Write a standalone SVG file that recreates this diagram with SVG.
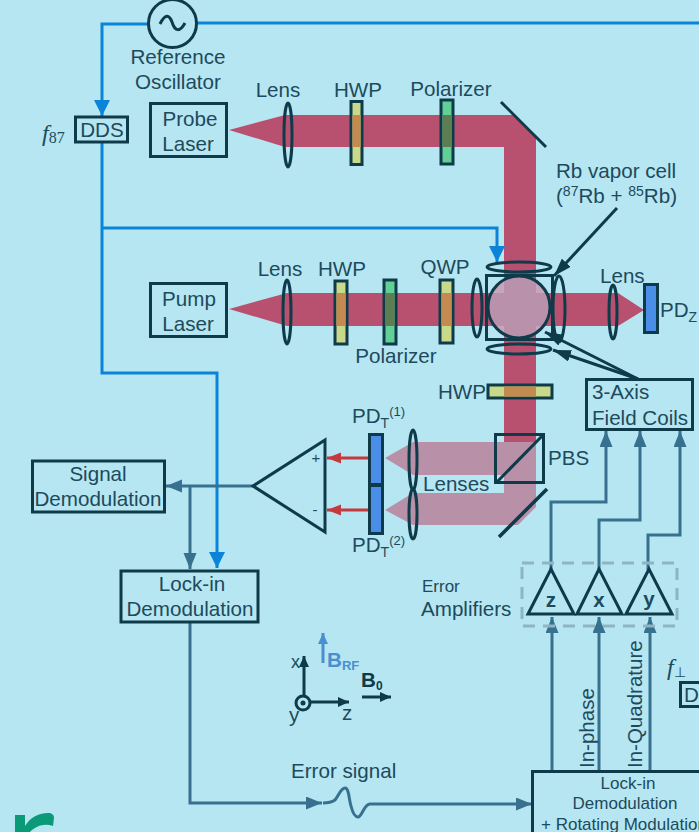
<svg xmlns="http://www.w3.org/2000/svg" width="699" height="832" viewBox="0 0 699 832">
<style>
svg{font-family:"Liberation Sans",Arial,sans-serif;font-size:20.6px}
text{fill:#1d4a5c}
.m{text-anchor:middle}
.box{fill:none;stroke:#0e3a4a;stroke-width:3}
.opt{fill:none;stroke:#0e3a4a;stroke-width:3}
.blue{fill:none;stroke:#0b84d8;stroke-width:3}
.steel{fill:none;stroke:#38708f;stroke-width:3}
.dark{fill:none;stroke:#0e3a4a;stroke-width:3}
.hw{fill:#c9d98a;stroke:#0e3a4a;stroke-width:3}
.po{fill:#62cf96;stroke:#0e3a4a;stroke-width:3}
.hb{fill:#c58a50}
.pb{fill:#5e7d52}
.pd{fill:#4a8ee8;stroke:#0e3a4a;stroke-width:3}
.ser{font-family:"Liberation Serif",serif;font-style:italic}
</style>
<defs>
<marker id="ab" markerWidth="18" markerHeight="18" refX="16" refY="8" orient="auto" markerUnits="userSpaceOnUse"><path d="M0 0L16 8L0 16Z" fill="#0b84d8"/></marker>
<marker id="as" markerWidth="18" markerHeight="14" refX="16" refY="6.500" orient="auto" markerUnits="userSpaceOnUse"><path d="M0 0L16 6.500L0 13Z" fill="#38708f"/></marker>
<marker id="ad" markerWidth="20" markerHeight="14" refX="18" refY="6" orient="auto" markerUnits="userSpaceOnUse"><path d="M0 0L18 6L0 12Z" fill="#0e3a4a"/></marker>
<marker id="ar" markerWidth="16" markerHeight="12" refX="14" refY="5.500" orient="auto" markerUnits="userSpaceOnUse"><path d="M0 0L14 5.500L0 11Z" fill="#c43a3f"/></marker>
<marker id="ak" markerWidth="12" markerHeight="10" refX="11" refY="5" orient="auto" markerUnits="userSpaceOnUse"><path d="M0 0L11 5L0 10Z" fill="#0e3a4a"/></marker>
<marker id="al" markerWidth="12" markerHeight="10" refX="11" refY="5" orient="auto" markerUnits="userSpaceOnUse"><path d="M0 0L11 5L0 10Z" fill="#4a8fd0"/></marker>
<clipPath id="cell"><circle cx="519" cy="307" r="31"/></clipPath>
</defs>
<rect width="699" height="832" fill="#b6e6f1"/>

<g id="beams">
<path d="M229 130L285 115H513L536 137V442L504 474V147H285Z" fill="#b8506f"/>
<path d="M229 309L287 293H618L644 310L618 326H287Z" fill="#b8506f"/>
<path d="M385 458L413 442H536L504 474V475H413Z" fill="#b891a8"/>
<path d="M504 474L536 442V507L518 525H413L385 510L413 493H504Z" fill="#b891a8"/>
</g>

<g id="connectors">
<path class="blue" d="M148 24H102V116" marker-end="url(#ab)"/>
<path class="blue" d="M197 23H699"/>
<path class="blue" d="M102 142V373H217V568" marker-end="url(#ab)"/>
<path class="blue" stroke-width="2" d="M102 228H497V262" marker-end="url(#ab)"/>
<path class="steel" d="M253 486H166" marker-end="url(#as)"/>
<path class="steel" d="M190 486V569" marker-end="url(#as)"/>
<path class="steel" d="M190 622V803H322" marker-end="url(#as)"/>
<path class="steel" d="M323 803C330 803 332 802 335 800C339 795 341 788 345 788C349 788 349 800 351 806C353 814 355 817 358 817C362 817 364 804 370 804H532" marker-end="url(#as)"/>
<path class="steel" d="M552 771V617" marker-end="url(#as)"/>
<path class="steel" d="M599 771V617" marker-end="url(#as)"/>
<path class="steel" d="M650 771V617" marker-end="url(#as)"/>
<path class="steel" d="M551 570V502H606V431" marker-end="url(#as)"/>
<path class="steel" d="M599 570V520H640V431" marker-end="url(#as)"/>
<path class="steel" d="M648 570V535H680V431" marker-end="url(#as)"/>
<path d="M369 458H327" stroke="#c43a3f" stroke-width="3" marker-end="url(#ar)"/>
<path d="M369 510H327" stroke="#c43a3f" stroke-width="3" marker-end="url(#ar)"/>
</g>

<g id="oscillator"><circle cx="172.500" cy="23.500" r="24" fill="none" stroke="#0e3a4a" stroke-width="3"/><path d="M160 24C165 14 169 14 172 22C175 32 180 32 185 23" fill="none" stroke="#0e3a4a" stroke-width="3"/>
<text class="m" x="178" y="64">Reference</text><text class="m" x="178" y="89">Oscillator</text></g>
<g id="dds"><rect class="box" x="75.500" y="117" width="52" height="25"/><text class="m" x="102" y="137">DDS</text><text class="ser" x="42" y="141" font-size="24">f<tspan font-size="16" font-style="normal" dy="2">87</tspan></text></g>
<g id="probe-laser"><rect class="box" x="150.500" y="103.500" width="76" height="53"/><text class="m" x="190" y="126">Probe</text><text class="m" x="188" y="151">Laser</text></g>
<g id="pump-laser"><rect class="box" x="150.500" y="283.500" width="76" height="53"/><text class="m" x="189" y="306">Pump</text><text class="m" x="188" y="331">Laser</text></g>

<g id="probe-optics">
<ellipse class="opt" cx="288" cy="135" rx="4" ry="32"/>
<rect class="hw" x="351" y="101.500" width="11" height="63"/><rect class="hb" x="352.500" y="115" width="8" height="32"/>
<rect class="po" x="441" y="100" width="12" height="64"/><rect class="pb" x="442.500" y="115" width="9" height="32"/>
<path d="M501 102L546 147" stroke="#0e3a4a" stroke-width="3"/>
<text class="m" x="278" y="97">Lens</text><text class="m" x="358" y="97">HWP</text><text class="m" x="451" y="96">Polarizer</text>
</g>
<g id="pump-optics">
<ellipse class="opt" cx="287" cy="312" rx="4" ry="32"/>
<rect class="hw" x="335" y="281" width="12" height="63"/><rect class="hb" x="336.500" y="293" width="9" height="33"/>
<rect class="po" x="384" y="280" width="12" height="64"/><rect class="pb" x="385.500" y="293" width="9" height="33"/>
<rect class="hw" x="440" y="280" width="13" height="63"/><rect class="hb" x="441.500" y="293" width="10" height="33"/>
<text class="m" x="280" y="276">Lens</text><text class="m" x="342" y="276">HWP</text><text class="m" x="445" y="274">QWP</text><text class="m" x="396" y="363">Polarizer</text>
</g>
<g id="vapor-cell">
<circle cx="519" cy="307" r="31" fill="#c8a5bc"/>
<g clip-path="url(#cell)" fill="#b991aa"><rect x="504" y="270" width="32" height="74"/><rect x="480" y="293" width="78" height="33"/></g>
<circle cx="519" cy="307" r="31" fill="none" stroke="#0e3a4a" stroke-width="3"/>
<rect class="box" x="486.500" y="275.500" width="66" height="64"/>
<ellipse class="opt" cx="519" cy="267" rx="32" ry="5"/>
<ellipse class="opt" cx="519" cy="349" rx="32" ry="5"/>
<ellipse class="opt" cx="477" cy="308" rx="5" ry="29"/>
<ellipse class="opt" cx="559" cy="309" rx="6" ry="33"/>
<path class="dark" d="M617 208L554 276" marker-end="url(#ad)"/>
<path class="dark" d="M638 379L545 332" marker-end="url(#ad)"/>
<path class="dark" d="M638 379L553 350" marker-end="url(#ad)"/>
<text x="556" y="178">Rb vapor cell</text>
<text x="556" y="203">(<tspan font-size="14" dy="-7">87</tspan><tspan dy="7">Rb + </tspan><tspan font-size="14" dy="-7">85</tspan><tspan dy="7">Rb)</tspan></text>
</g>
<g id="pd-z"><ellipse class="opt" cx="613" cy="312" rx="4" ry="27"/><rect class="pd" x="644.500" y="284.500" width="13" height="48"/><text x="600" y="283">Lens</text><text x="660" y="317">PD<tspan font-size="14" dy="5">Z</tspan></text></g>
<g id="pbs-optics">
<rect class="hw" x="488" y="385" width="64" height="13"/><rect class="hb" x="504" y="386.500" width="32" height="10"/>
<text x="438" y="399">HWP</text>
<rect class="box" x="495.500" y="434.500" width="48" height="48"/><path d="M496 483L544 434" stroke="#0e3a4a" stroke-width="3"/>
<text x="548" y="465">PBS</text>
<path d="M499 537L547 489" stroke="#0e3a4a" stroke-width="3.500"/>
<ellipse class="opt" cx="413" cy="460" rx="4" ry="30"/><ellipse class="opt" cx="413" cy="514" rx="4" ry="25"/>
<text x="423" y="491">Lenses</text>
</g>
<g id="pd-t"><rect class="pd" x="369.500" y="434.500" width="13" height="50"/><rect class="pd" x="369.500" y="485.500" width="13" height="48"/>
<text x="352" y="423">PD<tspan font-size="14" dy="5">T</tspan><tspan font-size="13" dy="-12">(1)</tspan></text>
<text x="352" y="552">PD<tspan font-size="14" dy="5">T</tspan><tspan font-size="13" dy="-12">(2)</tspan></text></g>
<g id="amplifier"><path class="dark" d="M253 486L325 440V532Z"/><text class="m" x="316" y="463" font-size="15">+</text><text class="m" x="315" y="515" font-size="15">-</text></g>
<g id="field-coils"><rect class="box" x="586.500" y="379.500" width="106" height="50"/><text x="592" y="399">3-Axis</text><text x="592" y="425">Field Coils</text></g>
<g id="signal-demod"><rect class="box" x="32.500" y="461" width="132" height="51"/><text class="m" x="98" y="481">Signal</text><text class="m" x="98" y="506">Demodulation</text></g>
<g id="lockin-demod"><rect class="box" x="121" y="571" width="137" height="51"/><text class="m" x="192" y="591">Lock-in</text><text class="m" x="190" y="616">Demodulation</text></g>
<g id="error-amps">
<rect x="522" y="563" width="155" height="63" fill="none" stroke="#8fb5c0" stroke-width="3" stroke-dasharray="12 8"/>
<path class="dark" stroke-width="3.500" d="M528 614L551 569L574 614Z"/><path class="dark" d="M577 614L599 569L622 614Z"/><path class="dark" d="M626 614L649 569L672 614Z"/>
<text class="m" x="551" y="607" font-weight="bold">z</text><text class="m" x="599" y="607" font-weight="bold">x</text><text class="m" x="649" y="606" font-weight="bold">y</text>
<text x="422" y="592" font-size="17">Error</text><text x="421" y="616">Amplifiers</text>
</g>
<g id="axes">
<circle cx="303" cy="703" r="7" fill="none" stroke="#0e3a4a" stroke-width="3"/><circle cx="303" cy="703" r="2.500" fill="#0e3a4a"/>
<path d="M304 696V656" stroke="#0e3a4a" stroke-width="3" marker-end="url(#ak)"/>
<path d="M310 702H349" stroke="#0e3a4a" stroke-width="3" marker-end="url(#ak)"/>
<path d="M323 663V633" stroke="#4a8fd0" stroke-width="3" marker-end="url(#al)"/>
<text x="291" y="668" font-size="18">x</text><text x="289" y="722">y</text><text x="342" y="720">z</text>
<text x="327" y="667" font-weight="bold" style="fill:#4a8fd0">B<tspan font-size="13" dy="3">RF</tspan></text>
<text x="361" y="687" font-weight="bold" style="fill:#0e3a4a">B<tspan font-size="12" dy="3">0</tspan></text>
<path d="M362 697H391" stroke="#0e3a4a" stroke-width="3" marker-end="url(#ak)"/>
<text x="291" y="778">Error signal</text>
</g>
<g id="lockin-rotating"><rect class="box" x="532.500" y="771.500" width="200" height="80"/>
<text class="m" x="628" y="789" font-size="17">Lock-in</text><text class="m" x="625" y="809" font-size="17">Demodulation</text><text x="541" y="830" font-size="17">+ Rotating Modulation</text>
<text transform="translate(594 768) rotate(-90)" font-size="20.500">In-phase</text><text transform="translate(642 768) rotate(-90)" font-size="20.500">In-Quadrature</text></g>
<g id="dds-perp"><text class="ser" x="667" y="675" font-size="24">f<tspan font-size="14" font-style="normal" dy="2">⊥</tspan></text><rect class="box" x="680.500" y="682.500" width="40" height="24"/><text x="684" y="702">D</text></g>
<g id="logo"><path d="M15 832V815H25V826C30 818 38 813 48 813C52 813 54 815 54 818L53 826C44 823 36 826 30 832Z" fill="#0b9a78"/></g>
</svg>
